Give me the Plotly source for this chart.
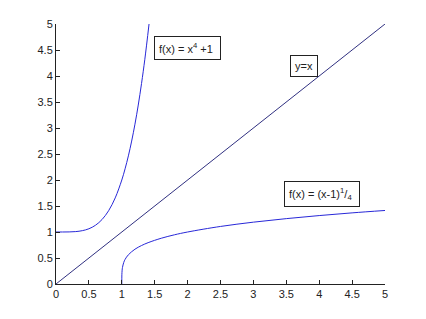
import plotly.graph_objects as go

# Curve f(x) = x^4 + 1
x_quartic = [0, 0.1, 0.2, 0.3, 0.4, 0.5, 0.6, 0.7, 0.8, 0.9, 1.0, 1.05, 1.1, 1.15, 1.2, 1.25, 1.3, 1.35, 1.414]
y_quartic = [1, 1.0001, 1.0016, 1.0081, 1.0256, 1.0625, 1.1296, 1.2401, 1.4096, 1.6561, 2.0, 2.2155, 2.4641, 2.7490, 3.0736, 3.4414, 3.8561, 4.3215, 5.0]

# Line y = x
x_line = [0, 5]
y_line = [0, 5]

# Curve f(x) = (x-1)^(1/4)
x_root = [1, 1.0001, 1.001, 1.005, 1.01, 1.03, 1.05, 1.1, 1.2, 1.3, 1.4, 1.6, 1.8, 2.0, 2.5, 3.0, 3.5, 4.0, 4.5, 5.0]
y_root = [0, 0.1, 0.178, 0.266, 0.316, 0.416, 0.473, 0.562, 0.669, 0.740, 0.795, 0.880, 0.946, 1.0, 1.107, 1.189, 1.257, 1.316, 1.368, 1.414]

tick_vals = [0, 0.5, 1, 1.5, 2, 2.5, 3, 3.5, 4, 4.5, 5]
tick_text = ["0", "0.5", "1", "1.5", "2", "2.5", "3", "3.5", "4", "4.5", "5"]

labels = ["f(x) = x<sup>4</sup> +1 ", "y=x", "f(x) = (x-1)<sup>1</sup>/<sub>4</sub> "]
label_x = [2.0, 3.77, 4.04]
label_y = [4.54, 4.19, 1.74]

fig = go.Figure()
fig.add_trace(go.Scatter(x=x_quartic, y=y_quartic, mode="lines", line=dict(color="#2828d8", width=1, shape="spline")))
fig.add_trace(go.Scatter(x=x_line, y=y_line, mode="lines", line=dict(color="#303080", width=1)))
fig.add_trace(go.Scatter(x=x_root, y=y_root, mode="lines", line=dict(color="#2828d8", width=1, shape="spline")))

for t, ax_, ay_ in zip(labels, label_x, label_y):
    fig.add_annotation(x=ax_, y=ay_, text=t, showarrow=False, xref="x", yref="y",
                       bordercolor="#222", borderwidth=1, bgcolor="white", borderpad=4,
                       font=dict(family="Liberation Sans, Arial", size=11, color="#222"))

axis_common = dict(range=[0, 5], tickvals=tick_vals, ticktext=tick_text, showline=True,
                   linecolor="#222", linewidth=1, ticks="inside", ticklen=4, tickcolor="#222",
                   showgrid=False, zeroline=False, tickfont=dict(family="Liberation Sans, Arial", size=11, color="#222"))

fig.update_xaxes(**axis_common)
fig.update_yaxes(**axis_common)
fig.update_layout(width=426, height=319, margin=dict(l=56, r=41, t=24, b=35),
                  plot_bgcolor="white", paper_bgcolor="white", showlegend=False)

fig.write_html("out.html")
